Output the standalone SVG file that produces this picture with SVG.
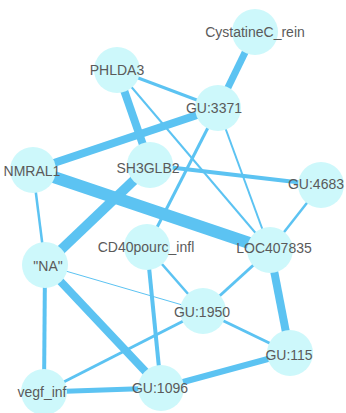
<svg xmlns="http://www.w3.org/2000/svg" width="346" height="413" viewBox="0 0 346 413">
<style>
.e{stroke:#5cc3f2;stroke-linecap:butt;fill:none}
.n circle{fill:#cdf8fb}
.n text{font-family:"Liberation Sans",Arial,sans-serif;font-size:14px;fill:#5a5a5a;text-anchor:middle;dominant-baseline:central}
</style>
<rect width="346" height="413" fill="#fff"/>
<g id="edges">
<line class="e" x1="255" y1="32" x2="218" y2="108" stroke-width="7"/>
<line class="e" x1="117" y1="70" x2="218" y2="108" stroke-width="3"/>
<line class="e" x1="117" y1="70" x2="150" y2="165" stroke-width="8"/>
<line class="e" x1="117" y1="70" x2="270" y2="250" stroke-width="2"/>
<line class="e" x1="218" y1="108" x2="33" y2="170" stroke-width="8"/>
<line class="e" x1="218" y1="108" x2="147" y2="247" stroke-width="3"/>
<line class="e" x1="218" y1="108" x2="270" y2="250" stroke-width="2"/>
<line class="e" x1="150" y1="165" x2="321" y2="185" stroke-width="4"/>
<line class="e" x1="150" y1="165" x2="45" y2="265" stroke-width="10"/>
<line class="e" x1="33" y1="170" x2="270" y2="250" stroke-width="12"/>
<line class="e" x1="33" y1="170" x2="45" y2="265" stroke-width="2.5"/>
<line class="e" x1="321" y1="185" x2="270" y2="250" stroke-width="2.5"/>
<line class="e" x1="147" y1="247" x2="203" y2="311" stroke-width="2.5"/>
<line class="e" x1="147" y1="247" x2="161" y2="388" stroke-width="4"/>
<line class="e" x1="270" y1="250" x2="203" y2="311" stroke-width="3"/>
<line class="e" x1="270" y1="250" x2="290" y2="353" stroke-width="8"/>
<line class="e" x1="45" y1="265" x2="203" y2="311" stroke-width="1"/>
<line class="e" x1="45" y1="265" x2="161" y2="388" stroke-width="8"/>
<line class="e" x1="45" y1="265" x2="44" y2="392" stroke-width="4"/>
<line class="e" x1="203" y1="311" x2="44" y2="392" stroke-width="3"/>
<line class="e" x1="203" y1="311" x2="290" y2="353" stroke-width="3"/>
<line class="e" x1="44" y1="392" x2="161" y2="388" stroke-width="5"/>
<line class="e" x1="161" y1="388" x2="290" y2="353" stroke-width="6"/>
</g>
<g id="n_cystatine" class="n"><circle cx="255" cy="32" r="23"/><text x="255" y="32">CystatineC_rein</text></g>
<g id="n_phlda3" class="n"><circle cx="117" cy="70" r="23"/><text x="117" y="70">PHLDA3</text></g>
<g id="n_gu3371" class="n"><circle cx="218" cy="108" r="23"/><text x="214" y="108">GU:3371</text></g>
<g id="n_nmral1" class="n"><circle cx="33" cy="170" r="23"/><text x="32" y="171">NMRAL1</text></g>
<g id="n_sh3glb2" class="n"><circle cx="150" cy="165" r="23"/><text x="148" y="168">SH3GLB2</text></g>
<g id="n_gu4683" class="n"><circle cx="321" cy="185" r="23"/><text x="316" y="184">GU:4683</text></g>
<g id="n_cd40" class="n"><circle cx="147" cy="247" r="23"/><text x="146" y="247">CD40pourc_infl</text></g>
<g id="n_loc" class="n"><circle cx="270" cy="250" r="23"/><text x="274" y="248">LOC407835</text></g>
<g id="n_na" class="n"><circle cx="45" cy="265" r="23"/><text x="48" y="266">"NA"</text></g>
<g id="n_gu1950" class="n"><circle cx="203" cy="311" r="23"/><text x="202" y="312">GU:1950</text></g>
<g id="n_gu115" class="n"><circle cx="290" cy="353" r="23"/><text x="289" y="355">GU:115</text></g>
<g id="n_gu1096" class="n"><circle cx="161" cy="388" r="23"/><text x="160" y="388">GU:1096</text></g>
<g id="n_vegf" class="n"><circle cx="44" cy="392" r="23"/><text x="42" y="392">vegf_inf</text></g>
</svg>
